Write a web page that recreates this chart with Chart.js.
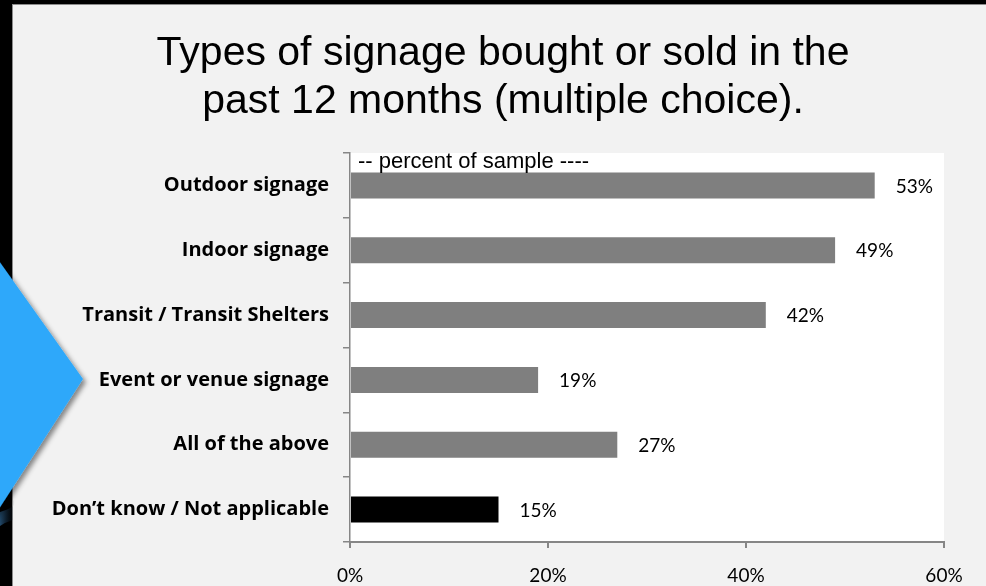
<!DOCTYPE html>
<html>
<head>
<meta charset="utf-8">
<script src="https://cdn.jsdelivr.net/npm/chart.js@4.4.1/dist/chart.umd.min.js"></script>
<style>
  html, body { margin: 0; padding: 0; }
  body { width: 986px; height: 586px; background: #000; position: relative; overflow: hidden; }
  #panel { position: absolute; left: 12px; top: 4px; right: -2px; bottom: -2px; background: #f2f2f2; border: 1.5px solid #8c8c8c; }
  #swoosh { position: absolute; left: 0; top: 0; width: 986px; height: 586px; }
  #wrap { position: absolute; left: 13px; top: 5px; width: 973px; height: 581px; }
</style>
</head>
<body>
<div id="panel"></div>
<svg id="swoosh" width="986" height="586">
  <defs>
    <filter id="sh" x="-20%" y="-20%" width="140%" height="140%">
      <feDropShadow dx="3" dy="3" stdDeviation="2.5" flood-color="#000" flood-opacity="0.45"/>
    </filter>
    <linearGradient id="glow" x1="0" y1="0" x2="1" y2="0">
      <stop offset="0" stop-color="#2a5c86" stop-opacity="0.8"/>
      <stop offset="1" stop-color="#0b1a2a" stop-opacity="0"/>
    </linearGradient>
  </defs>
  <path d="M0,512 Q20,506 13,500 L13,520 Q6,522 0,526 Z" fill="url(#glow)"/>
  <polygon points="83,379 -60,178 -60,600" fill="#2ea8fa" filter="url(#sh)"/>
</svg>
<div id="wrap"><canvas id="myChart" width="973" height="581"></canvas></div>
<script>
const categories = [
  'Outdoor signage',
  'Indoor signage',
  'Transit / Transit Shelters',
  'Event or venue signage',
  'All of the above',
  'Don\u2019t know / Not applicable'
];
const percentValues = [53, 49, 42, 19, 27, 15];
const barColors = ['#7f7f7f', '#7f7f7f', '#7f7f7f', '#7f7f7f', '#7f7f7f', '#000000'];
const xTicks = [0, 20, 40, 60];
const titleLines = ['Types of signage bought or sold in the', 'past 12 months (multiple choice).'];
const axisNote = '-- percent of sample ----';

// title, white plot area, the axis note and the value labels
const plotDecor = {
  id: 'plotDecor',
  beforeDraw(chart) {
    const { ctx, chartArea: a } = chart;
    ctx.save();
    ctx.fillStyle = '#ffffff';
    ctx.fillRect(a.left, a.top, a.right - a.left, a.bottom - a.top);

    // title sits a little right of the canvas centre
    ctx.fillStyle = '#000';
    ctx.font = '41px "Liberation Sans", Arial, sans-serif';
    ctx.textAlign = 'center';
    ctx.textBaseline = 'middle';
    titleLines.forEach((line, i) => ctx.fillText(line, 490, 49 + i * 48));
    ctx.restore();
  },
  afterDatasetsDraw(chart) {
    const { ctx, chartArea: a } = chart;
    ctx.save();
    ctx.fillStyle = '#000';
    ctx.font = '22px "Liberation Sans", Arial, sans-serif';
    ctx.textBaseline = 'alphabetic';
    ctx.textAlign = 'left';
    ctx.fillText(axisNote, a.left + 8, a.top + 15);

    ctx.font = '19px Lato, "Open Sans", sans-serif';
    ctx.textBaseline = 'middle';
    chart.getDatasetMeta(0).data.forEach((bar, i) => {
      ctx.fillText(percentValues[i] + '%', bar.x + 21, bar.y + 1);
    });
    ctx.restore();
  }
};

const ctx = document.getElementById('myChart').getContext('2d');
new Chart(ctx, {
  type: 'bar',
  data: {
    labels: categories,
    datasets: [{
      data: percentValues,
      backgroundColor: barColors,
      borderWidth: 0,
      barPercentage: 0.4,
      categoryPercentage: 1
    }]
  },
  options: {
    indexAxis: 'y',
    responsive: false,
    animation: false,
    layout: { padding: { left: 0, right: 42, top: 148, bottom: 0 } },
    plugins: {
      legend: { display: false },
      tooltip: { enabled: false },
      title: { display: false }
    },
    scales: {
      x: {
        min: 0,
        max: 60,
        afterBuildTicks(scale) {
          scale.ticks = xTicks.map(v => ({ value: v }));
        },
        afterFit(scale) { scale.height = 44; },
        border: { color: '#868686', width: 2 },
        grid: { drawOnChartArea: false, tickLength: 6, tickColor: '#868686', lineWidth: 2 },
        ticks: {
          color: '#000',
          padding: 16,
          font: { family: 'Lato, "Open Sans", sans-serif', size: 19 },
          callback: v => v + '%'
        }
      },
      y: {
        afterFit(scale) { scale.width = 337; },
        border: { color: '#868686', width: 1.5 },
        grid: { drawOnChartArea: false, tickLength: 7, tickColor: '#868686', lineWidth: 1.5, offset: true },
        ticks: {
          color: '#000',
          padding: 14,
          font: { family: '"Open Sans", Lato, sans-serif', size: 20, weight: 'bold' }
        }
      }
    }
  },
  plugins: [plotDecor]
});
</script>
</body>
</html>
